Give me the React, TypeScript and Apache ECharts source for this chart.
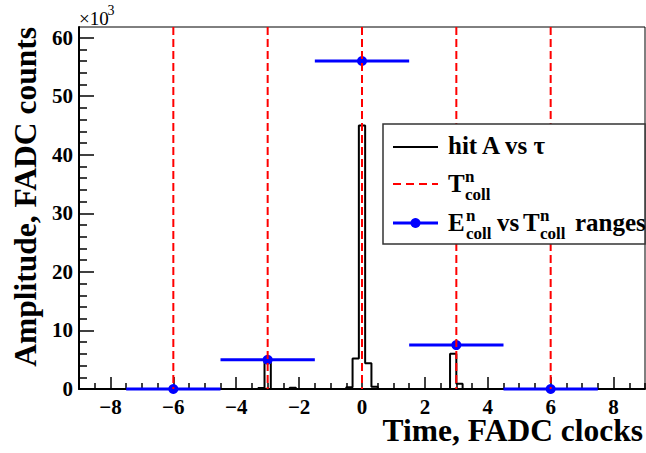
import React, { useEffect, useRef } from "react";
import * as echarts from "echarts";

// ---- data ----
const binWidth = 0.2;
const histCenters = [-3.2, -3.0, -2.2, -0.4, -0.2, 0.0, 0.2, 0.4, 2.9, 3.1];
const histCounts = [150, 4800, 200, 300, 5200, 45000, 4400, 400, 6000, 900];

const collX = [-6, -3, 0, 3, 6];
const collE = [0, 5000, 56000, 7500, 0];
const collXErr = [1.5, 1.5, 1.5, 1.5, 1.5];

const xMajorTicks = [-8, -6, -4, -2, 0, 2, 4, 6, 8];
const yMajorTicks = [0, 10000, 20000, 30000, 40000, 50000, 60000];

const X_MIN = -9;
const X_MAX = 9;
const Y_MIN = 0;
const Y_MAX = 61800;

const FONT = '"Liberation Serif", "Times New Roman", serif';

function buildOutline(): number[][] {
  const pts: number[][] = [];
  let prevHi: number | null = null;
  for (let i = 0; i < histCenters.length; i++) {
    const lo = histCenters[i] - binWidth / 2;
    const hi = histCenters[i] + binWidth / 2;
    const v = histCounts[i];
    if (prevHi === null || Math.abs(lo - prevHi) > 1e-6) {
      if (prevHi !== null) pts.push([prevHi, 0]);
      pts.push([lo, 0]);
    }
    pts.push([lo, v]);
    pts.push([hi, v]);
    prevHi = hi;
  }
  if (prevHi !== null) pts.push([prevHi, 0]);
  return pts;
}

function minorValues(min: number, max: number, step: number, majorStep: number): number[] {
  const out: number[] = [];
  const n = Math.round((max - min) / step);
  for (let i = 0; i <= n; i++) {
    const v = +(min + i * step).toFixed(6);
    if (Math.abs(v / majorStep - Math.round(v / majorStep)) > 1e-6) out.push(v);
  }
  return out;
}

const fmtX = (v: number) => (v < 0 ? "\u2212" + Math.abs(v) : String(v));

export default function App() {
  const ref = useRef<HTMLDivElement>(null);
  useEffect(() => {
    if (!ref.current) return;
    const chart = echarts.init(ref.current, undefined, { renderer: "svg" });
    const labelStyle = {
      color: "#000",
      fontFamily: "Liberation Serif",
      fontWeight: "bold" as const,
      fontSize: 21,
    };
    const xMinor = minorValues(X_MIN, X_MAX, 0.5, 2);
    const yMinor = minorValues(Y_MIN, Y_MAX, 2000, 10000);

    const legendX = 383;
    const legendRight = 645;
    const big = `bold 25px ${FONT}`;
    const small = `bold 17px ${FONT}`;
    const txt = (x: number, y: number, text: string, font: string, extra: any = {}) => ({
      type: "text",
      x,
      y,
      z: 100,
      style: { text, font, fill: "#000", align: "left", verticalAlign: "middle", ...extra },
    });

    const e1 = 147;
    const e2 = 184;
    const e3 = 223;

    chart.setOption({
      animation: false,
      backgroundColor: "#fff",
      grid: {
        left: 79,
        right: 1,
        top: 27,
        bottom: 64,
        show: true,
        borderColor: "#000",
        borderWidth: 1,
        backgroundColor: "#fff",
      },
      xAxis: [
        {
          type: "value",
          min: X_MIN,
          max: X_MAX,
          position: "bottom",
          axisLine: { show: true, onZero: false, lineStyle: { color: "#000", width: 2 } },
          axisTick: {
            show: true,
            inside: true,
            length: 12,
            customValues: xMajorTicks,
            lineStyle: { color: "#000", width: 1.5 },
          },
          axisLabel: { ...labelStyle, margin: 7, customValues: xMajorTicks, formatter: fmtX },
          splitLine: { show: false },
        },
        {
          type: "value",
          min: X_MIN,
          max: X_MAX,
          position: "bottom",
          axisLine: { show: false, onZero: false },
          axisTick: {
            show: true,
            inside: true,
            length: 6,
            customValues: xMinor,
            lineStyle: { color: "#000", width: 1.5 },
          },
          axisLabel: { show: false },
          splitLine: { show: false },
        },
      ],
      yAxis: [
        {
          type: "value",
          min: Y_MIN,
          max: Y_MAX,
          position: "left",
          axisLine: { show: true, onZero: false, lineStyle: { color: "#000", width: 2 } },
          axisTick: {
            show: true,
            inside: true,
            length: 15,
            customValues: yMajorTicks,
            lineStyle: { color: "#000", width: 1.5 },
          },
          axisLabel: {
            ...labelStyle,
            margin: 6,
            customValues: yMajorTicks,
            formatter: (v: number) => String(Math.round(v / 1000)),
          },
          splitLine: { show: false },
        },
        {
          type: "value",
          min: Y_MIN,
          max: Y_MAX,
          position: "left",
          axisLine: { show: false, onZero: false },
          axisTick: {
            show: true,
            inside: true,
            length: 8,
            customValues: yMinor,
            lineStyle: { color: "#000", width: 1.5 },
          },
          axisLabel: { show: false },
          splitLine: { show: false },
        },
      ],
      series: [
        {
          name: "hit A vs τ",
          type: "line",
          xAxisIndex: 0,
          yAxisIndex: 0,
          data: buildOutline(),
          showSymbol: false,
          symbol: "none",
          lineStyle: { color: "#000", width: 2 },
          z: 3,
        },
        {
          name: "ranges",
          type: "custom",
          xAxisIndex: 0,
          yAxisIndex: 0,
          clip: false,
          data: collX.map((x, i) => [x, collE[i], collXErr[i]]),
          encode: { x: 0, y: 1 },
          renderItem: (params: any, api: any) => {
            const x = api.value(0);
            const y = api.value(1);
            const e = api.value(2);
            const a = api.coord([x - e, y]);
            const b = api.coord([x + e, y]);
            const c = api.coord([x, y]);
            return {
              type: "group",
              children: [
                {
                  type: "line",
                  shape: { x1: a[0], y1: a[1], x2: b[0], y2: b[1] },
                  style: { stroke: "#0000ff", lineWidth: 3 },
                },
                {
                  type: "circle",
                  shape: { cx: c[0], cy: c[1], r: 5 },
                  style: { fill: "#0000ff" },
                },
              ],
            };
          },
          z: 4,
        },
        {
          name: "Tcoll",
          type: "custom",
          xAxisIndex: 0,
          yAxisIndex: 0,
          data: collX.map((x) => [x, 0]),
          encode: { x: 0, y: 1 },
          renderItem: (params: any, api: any) => {
            const cs = params.coordSys;
            const c = api.coord([api.value(0), 0]);
            return {
              type: "line",
              shape: { x1: c[0], y1: cs.y, x2: c[0], y2: cs.y + cs.height },
              style: { stroke: "#ff0000", lineWidth: 2, lineDash: [8, 4] },
            };
          },
          z: 5,
        },
      ],
      graphic: [
        // multiplier
        txt(79, 18, "×10", `19px ${FONT}`),
        txt(107.5, 10, "3", `14px ${FONT}`),
        // axis titles
        {
          type: "text",
          x: 643,
          y: 430,
          style: { text: "Time, FADC clocks", font: `bold 31.5px ${FONT}`, fill: "#000", align: "right", verticalAlign: "middle" },
        },
        {
          type: "text",
          x: 25,
          y: 27,
          rotation: Math.PI / 2,
          style: { text: "Amplitude, FADC counts", font: `bold 31.5px ${FONT}`, fill: "#000", align: "right", verticalAlign: "middle" },
        },
        // legend box
        {
          type: "rect",
          z: 90,
          shape: { x: legendX, y: 124, width: legendRight - legendX, height: 120 },
          style: { fill: "#fff", stroke: "#333", lineWidth: 1.5 },
        },
        {
          type: "line",
          z: 100,
          shape: { x1: 393, y1: e1, x2: 438, y2: e1 },
          style: { stroke: "#000", lineWidth: 2 },
        },
        txt(448, e1 - 2, "hit A vs τ", big),
        {
          type: "line",
          z: 100,
          shape: { x1: 393, y1: e2, x2: 438, y2: e2 },
          style: { stroke: "#ff0000", lineWidth: 2, lineDash: [8, 5] },
        },
        txt(448, e2 - 1, "T", big),
        txt(465, e2 - 7.5, "n", small),
        txt(465, e2 + 10.5, "coll", small),
        {
          type: "line",
          z: 100,
          shape: { x1: 393, y1: e3, x2: 438, y2: e3 },
          style: { stroke: "#0000ff", lineWidth: 3 },
        },
        {
          type: "circle",
          z: 101,
          shape: { cx: 415.5, cy: e3, r: 5 },
          style: { fill: "#0000ff" },
        },
        txt(448, e3 - 1, "E", big),
        txt(466, e3 - 7.5, "n", small),
        txt(466, e3 + 10.5, "coll", small),
        txt(497, e3 - 1, "vs", big),
        txt(523, e3 - 1, "T", big),
        txt(540, e3 - 7.5, "n", small),
        txt(540, e3 + 10.5, "coll", small),
        txt(575, e3 - 1, "ranges", big),
      ],
    });
    return () => chart.dispose();
  }, []);
  return (
    <div
      ref={ref}
      style={{ position: "absolute", left: 0, top: 0, width: 646, height: 453, background: "#fff" }}
    />
  );
}
